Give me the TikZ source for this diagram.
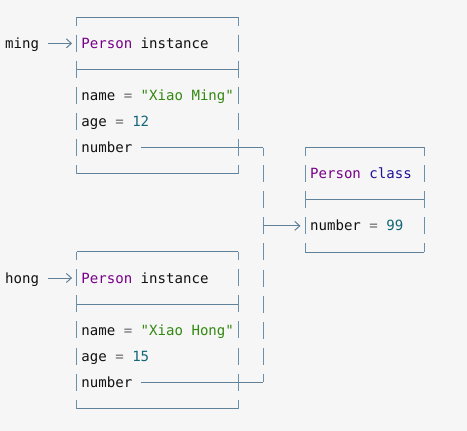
\documentclass[tikz,border=0pt]{standalone}
\usepackage{fontspec}
\setmonofont{DejaVu Sans Mono}
\usetikzlibrary{arrows.meta,fit}
\definecolor{bg}{RGB}{246,246,246}
\definecolor{hlc}{HTML}{5F8199}
\definecolor{vlc}{HTML}{6A90AC}
\definecolor{kw}{HTML}{770088}
\definecolor{atom}{HTML}{221199}
\definecolor{num}{HTML}{116677}
\definecolor{str}{HTML}{338811}
\definecolor{op}{HTML}{666666}
\definecolor{txt}{HTML}{111111}
\begin{document}
\begin{tikzpicture}[x=1pt,y=-1pt,
  lbl/.style={anchor=west, inner sep=0pt, text height=13pt, text depth=3pt,
    font=\ttfamily\fontsize{14.07pt}{16pt}\selectfont, text=txt},
  hline/.style={draw=hlc, line width=1pt},
  vline/.style={draw=vlc, line width=1.1pt, dash pattern=on 17pt off 9.07pt, dash phase=8.5pt},
  tip/.style={-{Straight Barb[length=5pt,width=9pt]}},
  frame/.style={inner sep=0pt, draw=none}]
\fill[bg] (0,0) rectangle (467,431);
\useasboundingbox (0,0) rectangle (467,431);

% texts
\node[lbl] (ming) at (5,43.37) {ming};
\node[lbl] (titleA) at (81.23,43.37) {\textcolor{kw}{Person} instance};
\node[lbl] (nameA) at (81.23,95.51) {name \textcolor{op}{=} \textcolor{str}{"Xiao Ming"}};
\node[lbl] (ageA) at (81.23,121.58) {age \textcolor{op}{=} \textcolor{num}{12}};
\node[lbl] (numA) at (81.23,147.65) {number};

\node[lbl] (titleC) at (309.92,173.72) {\textcolor{kw}{Person} \textcolor{atom}{class}};
\node[lbl] (numC) at (309.92,225.86) {number \textcolor{op}{=} \textcolor{num}{99}};

\node[lbl] (hong) at (5,278.00) {hong};
\node[lbl] (titleB) at (81.23,278.00) {\textcolor{kw}{Person} instance};
\node[lbl] (nameB) at (81.23,330.14) {name \textcolor{op}{=} \textcolor{str}{"Xiao Hong"}};
\node[lbl] (ageB) at (81.23,356.21) {age \textcolor{op}{=} \textcolor{num}{15}};
\node[lbl] (numB) at (81.23,382.28) {number};

% frames
\coordinate (A1) at (77.0,17.30);
\coordinate (A2) at (237.93,173.72);
\node[frame, fit=(A1)(A2)] (boxA) {};
\coordinate (sepA) at (0,69.44);

\coordinate (B1) at (77.0,251.93);
\coordinate (B2) at (237.93,408.35);
\node[frame, fit=(B1)(B2)] (boxB) {};
\coordinate (sepB) at (0,304.07);

\coordinate (C1) at (305.69,147.65);
\coordinate (C2) at (424.27,251.93);
\node[frame, fit=(C1)(C2)] (boxC) {};
\coordinate (sepC) at (0,199.79);

\foreach \b/\s in {boxA/sepA, boxB/sepB, boxC/sepC}{
  \draw[hline] (\b.north west) -- (\b.north east);
  \draw[hline] (\b.south west) -- (\b.south east);
  \draw[hline] (\b.west |- \s) -- (\b.east |- \s);
  \draw[vline] (\b.north west) -- (\b.south west);
  \draw[vline] (\b.north east) -- (\b.south east);
}

% connectors
\coordinate (jA) at (263.34,147.65);
\coordinate (jB) at (263.34,382.28);
\draw[hline, tip, shorten <=8.47pt, shorten >=4.7pt] (ming.east) -- (boxA.west |- ming.east);
\draw[hline, tip, shorten <=8.47pt, shorten >=4.7pt] (hong.east) -- (boxB.west |- hong.east);
\draw[hline, shorten <=8.47pt] (numA.east) -- (jA);
\draw[hline, shorten <=8.47pt] (numB.east) -- (jB);
\draw[vline] (jA) -- (jB);
\draw[hline, tip, shorten >=5pt] (jA |- numC.west) -- (boxC.west |- numC.west);
\end{tikzpicture}
\end{document}
